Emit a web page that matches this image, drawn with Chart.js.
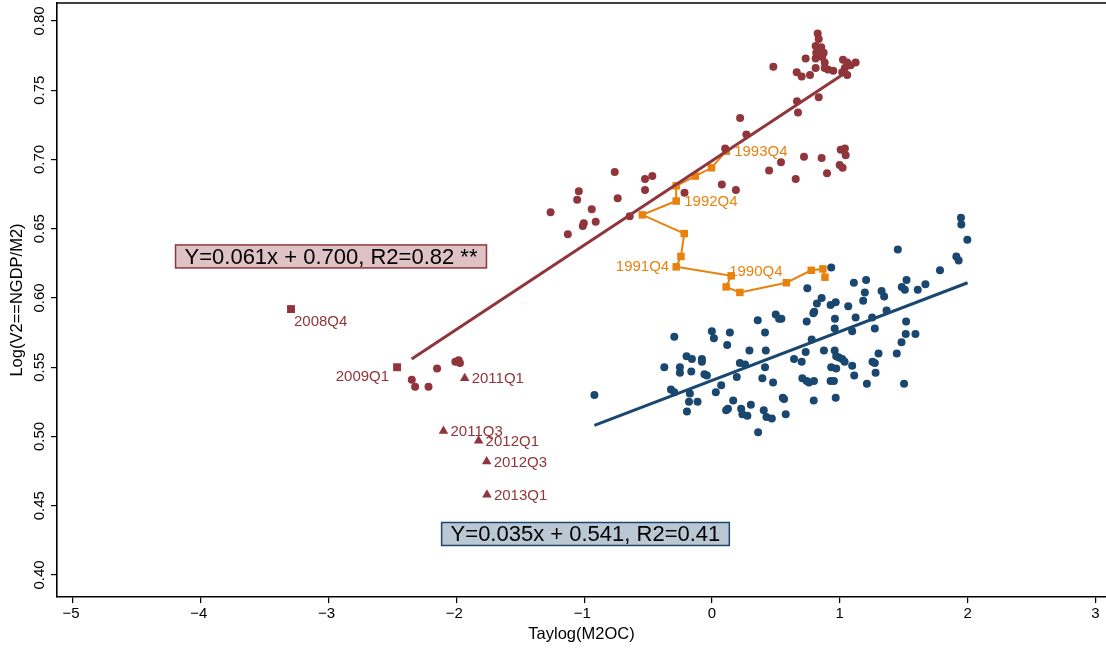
<!DOCTYPE html>
<html>
<head>
<meta charset="utf-8">
<script src="https://cdn.jsdelivr.net/npm/chart.js@4.4.1/dist/chart.umd.min.js"></script>
<style>
  html, body { margin: 0; padding: 0; background: #fff; }
  #wrap { width: 1106px; height: 648px; }
</style>
</head>
<body>
<div id="wrap"><canvas id="velocityChart" width="1106" height="648"></canvas></div>
<script>
const xTicks = [-5, -4, -3, -2, -1, 0, 1, 2, 3];
const yTicks = [0.40, 0.45, 0.50, 0.55, 0.60, 0.65, 0.70, 0.75, 0.80];

// maroon circles (high-velocity regime)
const redX = [
    -1.263, -1.128, -1.042, -1.055, -0.941, -0.910, -1.011, -1.003, -0.761, -0.738,
    -0.644, -0.524, -0.467, -0.524, -0.215, 0.077, 0.187, 0.103, 0.220, 0.269,
    0.480, 0.665, 0.673, 0.835, 0.447, 0.540, 0.655, 0.720, 0.858, 0.900,
    1.007, 1.040, 1.046, 0.999, 1.022, 0.827, 0.835, 0.811, 0.855, 0.816,
    0.874, 0.863, 0.882, 0.882, 0.907, 0.949, 0.733, 0.811, 0.811, 0.663,
    0.702, 0.767, 1.025, 1.058, 1.040, 1.085, 1.124, 1.019, 1.058,
    -2.349, -2.323, -2.218, -2.151, -2.008, -1.982, -1.972
];
const redY = [
    0.662, 0.646, 0.677, 0.671, 0.664, 0.655, 0.652, 0.654, 0.691, 0.672,
    0.659, 0.686, 0.688, 0.678, 0.676, 0.682, 0.678, 0.708, 0.730, 0.718,
    0.767, 0.742, 0.734, 0.745, 0.692, 0.698, 0.686, 0.702, 0.701, 0.690,
    0.707, 0.708, 0.703, 0.696, 0.694, 0.791, 0.787, 0.782, 0.781, 0.777,
    0.777, 0.774, 0.770, 0.766, 0.765, 0.764, 0.773, 0.773, 0.766, 0.763,
    0.760, 0.761, 0.772, 0.770, 0.766, 0.768, 0.770, 0.763, 0.761,
    0.541, 0.536, 0.536, 0.549, 0.554, 0.555, 0.553
];

// navy circles (low-velocity regime)
const blueX = [
    -0.920, -0.373, -0.295, -0.251, -0.251, -0.199, -0.157, -0.162, -0.321, -0.295,
    -0.173, -0.180, -0.113, -0.196, -0.079, -0.079, -0.059, -0.040, -0.001, 0.015,
    0.140, 0.119, 0.030, 0.072, 0.166, 0.111, 0.125, 0.194, 0.218, 0.259,
    0.228, 0.238, 0.277, 0.304, 0.293, 0.358, 0.415, 0.421, 0.415, 0.394,
    0.478, 0.405, 0.426, 0.468, 0.361, 0.577, 0.554, 0.564, 0.499, 0.525,
    0.543, 0.642, 0.702, 0.707, 0.741, 0.759, 0.798, 0.796, 0.733, 0.741,
    0.746, 0.780, 0.793, 0.800, 0.821, 0.858, 0.876, 0.928, 0.968, 0.962,
    0.960, 0.960, 0.972, 0.993, 1.019, 1.038, 0.933, 0.972, 0.928, 0.954,
    0.968, 1.066, 1.097, 1.124, 1.097, 1.113, 1.110, 1.183, 1.196, 1.206,
    1.212, 1.253, 1.274, 1.303, 1.256, 1.274, 1.280, 1.327, 1.347, 1.366,
    1.454, 1.446, 1.483, 1.485, 1.509, 1.522, 1.519, 1.516, 1.592, 1.503,
    1.610, 1.670, 1.784, 1.912, 1.930, 1.948, 1.951, 1.998, 0.933
];
const blueY = [
    0.530, 0.550, 0.572, 0.550, 0.546, 0.558, 0.556, 0.547, 0.534, 0.532,
    0.531, 0.525, 0.525, 0.518, 0.556, 0.554, 0.545, 0.544, 0.576, 0.571,
    0.575, 0.566, 0.532, 0.537, 0.526, 0.519, 0.520, 0.543, 0.553, 0.552,
    0.520, 0.516, 0.515, 0.523, 0.562, 0.584, 0.575, 0.562, 0.550, 0.542,
    0.539, 0.519, 0.514, 0.513, 0.503, 0.516, 0.528, 0.527, 0.588, 0.585,
    0.585, 0.556, 0.554, 0.542, 0.540, 0.539, 0.540, 0.526, 0.561, 0.583,
    0.607, 0.570, 0.589, 0.590, 0.596, 0.600, 0.562, 0.595, 0.597, 0.585,
    0.578, 0.562, 0.558, 0.557, 0.556, 0.554, 0.550, 0.549, 0.540, 0.540,
    0.528, 0.594, 0.576, 0.586, 0.551, 0.544, 0.611, 0.598, 0.604, 0.613,
    0.538, 0.586, 0.578, 0.560, 0.554, 0.553, 0.546, 0.605, 0.601, 0.591,
    0.635, 0.560, 0.568, 0.608, 0.606, 0.613, 0.583, 0.574, 0.574, 0.538,
    0.606, 0.610, 0.620, 0.630, 0.627, 0.658, 0.653, 0.642, 0.622
];

// orange transition path 1990-1993
const orangeX = [0.884, 0.868, 0.777, 0.582, 0.218, 0.111, 0.150, -0.280, -0.243, -0.217, -0.545, -0.280, -0.280, -0.131, -0.004, 0.111];
const orangeY = [0.615, 0.621, 0.620, 0.611, 0.604, 0.608, 0.616, 0.6225, 0.630, 0.6465, 0.660, 0.670, 0.681, 0.688, 0.694, 0.706];
const orangeLabels = ['', '', '', '', '', '', '1990Q4', '1991Q4', '', '', '', '1992Q4', '', '', '', '1993Q4'];

// crisis quarters
const sqX = [-3.294, -2.464];
const sqY = [0.592, 0.550];
const sqLabels = ['2008Q4', '2009Q1'];
const triX = [-1.935, -2.101, -1.826, -1.763, -1.761];
const triY = [0.542, 0.504, 0.497, 0.482, 0.458];
const triLabels = ['2011Q1', '2011Q3', '2012Q1', '2012Q3', '2013Q1'];

// fitted lines (end points)
const redFitX = [-2.35, 1.05];
const redFitY = [0.556, 0.763];
const blueFitX = [-0.92, 2.0];
const blueFitY = [0.508, 0.611];

const boxTexts = ['Y=0.061x + 0.700, R2=0.82 **', 'Y=0.035x + 0.541, R2=0.41'];
const boxX = [-2.981, -0.990];
const boxY = [0.630, 0.4296];

const maroon = '#90353B';
const navy = '#1A476F';
const orange = '#E8820E';
const boxFill = ['#DEC2C4', '#BAC8D4'];
const boxEdge = [maroon, navy];
const FONT = '"Liberation Sans", Arial, Helvetica, sans-serif';

// label offsets in px: [dx, dy, align]
const labelPos = {
    '2008Q4': [3, 13, 'left'],
    '2009Q1': [-8, 10, 'right'],
    '2011Q1': [7, 1, 'left'],
    '2011Q3': [7, 1, 'left'],
    '2012Q1': [7, 1, 'left'],
    '2012Q3': [7, 1, 'left'],
    '2013Q1': [7, 1, 'left'],
    '1990Q4': [-2, -4, 'left'],
    '1991Q4': [-7, 0, 'right'],
    '1992Q4': [8, 1, 'left'],
    '1993Q4': [8, 1, 'left']
};

const pts = (xs, ys) => xs.map((v, i) => ({ x: v, y: ys[i] }));

const extras = {
    id: 'extras',
    afterDatasetsDraw(chart) {
        const { ctx, chartArea: a, scales: { x, y } } = chart;
        ctx.save();

        // top frame line
        ctx.strokeStyle = '#000';
        ctx.lineWidth = 1.6;
        ctx.beginPath();
        ctx.moveTo(a.left, a.top);
        ctx.lineTo(a.right, a.top);
        ctx.stroke();

        // point labels
        ctx.font = '15px ' + FONT;
        ctx.textBaseline = 'middle';
        const groups = [[sqX, sqY, sqLabels, maroon], [triX, triY, triLabels, maroon], [orangeX, orangeY, orangeLabels, orange]];
        groups.forEach(([xs, ys, labels, color]) => {
            labels.forEach((t, i) => {
                if (!t) return;
                const [dx, dy, align] = labelPos[t];
                ctx.fillStyle = color;
                ctx.textAlign = align;
                ctx.fillText(t, x.getPixelForValue(xs[i]) + dx, y.getPixelForValue(ys[i]) + dy);
            });
        });

        // regression boxes
        ctx.font = '22px ' + FONT;
        ctx.textAlign = 'center';
        boxTexts.forEach((t, i) => {
            const cx = x.getPixelForValue(boxX[i]);
            const cy = y.getPixelForValue(boxY[i]);
            const w = ctx.measureText(t).width + 18;
            const h = 23;
            ctx.fillStyle = boxFill[i];
            ctx.fillRect(cx - w / 2, cy - h / 2, w, h);
            ctx.strokeStyle = boxEdge[i];
            ctx.lineWidth = 1.5;
            ctx.strokeRect(cx - w / 2, cy - h / 2, w, h);
            ctx.fillStyle = '#000';
            ctx.fillText(t, cx, cy + 1);
        });

        // tick labels
        ctx.font = '15px ' + FONT;
        ctx.fillStyle = '#000';
        xTicks.forEach(v => {
            const txt = v < 0 ? '\u2212' + Math.abs(v) : String(v);
            ctx.fillText(txt, x.getPixelForValue(v) - (v < 0 ? 2 : 0), a.bottom + 17);
        });
        yTicks.forEach(v => {
            ctx.save();
            ctx.translate(a.left - 17, y.getPixelForValue(v));
            ctx.rotate(-Math.PI / 2);
            ctx.fillText(v.toFixed(2), 0, 0);
            ctx.restore();
        });

        // axis titles
        ctx.font = '16.5px ' + FONT;
        ctx.save();
        ctx.translate(17, (a.top + a.bottom) / 2);
        ctx.rotate(-Math.PI / 2);
        ctx.fillText('Log(V2==NGDP/M2)', 0, 0);
        ctx.restore();
        ctx.fillText('Taylog(M2OC)', (a.left + a.right) / 2, 634);

        ctx.restore();
    }
};

const ctx = document.getElementById('velocityChart').getContext('2d');

new Chart(ctx, {
    type: 'scatter',
    data: {
        datasets: [
            {
                data: pts(redFitX, redFitY),
                showLine: true,
                borderColor: maroon,
                borderWidth: 3,
                pointRadius: 0
            },
            {
                data: pts(blueFitX, blueFitY),
                showLine: true,
                borderColor: navy,
                borderWidth: 3,
                pointRadius: 0
            },
            {
                data: pts(redX, redY),
                backgroundColor: maroon,
                borderWidth: 0,
                pointRadius: 4
            },
            {
                data: pts(sqX, sqY),
                pointStyle: 'rect',
                backgroundColor: maroon,
                borderWidth: 0,
                pointRadius: 5.6
            },
            {
                data: pts(triX, triY),
                pointStyle: 'triangle',
                backgroundColor: maroon,
                borderWidth: 0,
                pointRadius: 5.5
            },
            {
                data: pts(orangeX, orangeY),
                showLine: true,
                borderColor: orange,
                borderWidth: 2,
                pointStyle: 'rect',
                backgroundColor: orange,
                pointBorderWidth: 0,
                pointRadius: 5.3
            },
            {
                data: pts(blueX, blueY),
                backgroundColor: navy,
                borderWidth: 0,
                pointRadius: 4
            }
        ]
    },
    options: {
        responsive: false,
        animation: false,
        events: [],
        layout: { autoPadding: false, padding: { top: 3, right: 0, left: 0, bottom: 0 } },
        plugins: {
            legend: { display: false },
            tooltip: { enabled: false }
        },
        scales: {
            x: {
                type: 'linear',
                min: -5.125,
                max: 3.083,
                afterBuildTicks: axis => { axis.ticks = xTicks.map(v => ({ value: v })); },
                afterFit: axis => { axis.height = 51; },
                border: { display: true, color: '#000', width: 1.6 },
                grid: { display: true, drawOnChartArea: false, drawTicks: true, tickLength: 6, color: '#000', lineWidth: 1.2 },
                ticks: { display: false }
            },
            y: {
                type: 'linear',
                min: 0.3841,
                max: 0.8130,
                afterBuildTicks: axis => { axis.ticks = yTicks.map(v => ({ value: v })); },
                afterFit: axis => { axis.width = 57; },
                border: { display: true, color: '#000', width: 1.6 },
                grid: { display: true, drawOnChartArea: false, drawTicks: true, tickLength: 6, color: '#000', lineWidth: 1.2 },
                ticks: { display: false }
            }
        }
    },
    plugins: [extras]
});
</script>
</body>
</html>
